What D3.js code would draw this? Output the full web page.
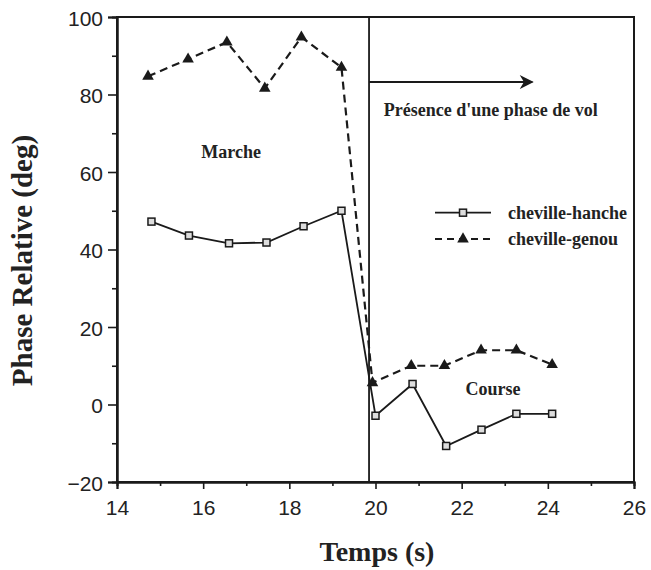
<!DOCTYPE html>
<html><head><meta charset="utf-8">
<script src="https://cdn.jsdelivr.net/npm/d3@7"></script>
<style>body{margin:0;background:#fff}svg{display:block}</style>
</head><body>
<script>
const timeHanche = [14.8, 15.67, 16.6, 17.47, 18.33, 19.21, 20.0, 20.86, 21.64, 22.46, 23.27, 24.1];
const valHanche  = [47.2, 43.6, 41.6, 41.8, 46.0, 50.0, -2.9, 5.3, -10.7, -6.5, -2.4, -2.4];
const timeGenou  = [14.72, 15.65, 16.55, 17.43, 18.28, 19.21, 19.93, 20.83, 21.6, 22.45, 23.27, 24.1];
const valGenou   = [84.7, 89.1, 93.5, 81.6, 94.8, 87.0, 5.6, 10.0, 10.0, 14.0, 14.0, 10.3];
const xTicks = [14, 16, 18, 20, 22, 24, 26];
const yTicks = [-20, 0, 20, 40, 60, 80, 100];
const seriesNames = ["cheville-hanche", "cheville-genou"];
const transitionTime = 19.85;
const arrowY = 83.2, arrowEnd = 23.64;

const W = 651, H = 570;
const L = 117, R = 634, T = 17, B = 482;
const svg = d3.select("body").append("svg").attr("width", W).attr("height", H);
const x = d3.scaleLinear().domain([14, 26]).range([L, R]);
const y = d3.scaleLinear().domain([-20, 100]).range([B, T]);
const ink = "#1a1a1a";

// frame
svg.append("rect").attr("x", L).attr("y", T).attr("width", R - L).attr("height", B - T)
  .attr("fill", "none").attr("stroke", ink).attr("stroke-width", 2);

// axes
const xAxis = svg.append("g").attr("transform", `translate(0,${B})`)
  .call(d3.axisBottom(x).tickValues(xTicks).tickSize(7).tickPadding(6).tickFormat(d3.format("d")));
const xMinor = svg.append("g").attr("transform", `translate(0,${B})`)
  .call(d3.axisBottom(x).tickValues(d3.range(15, 26, 2)).tickSize(4).tickFormat(""));
const yAxis = svg.append("g").attr("transform", `translate(${L},0)`)
  .call(d3.axisLeft(y).tickValues(yTicks).tickSize(9).tickPadding(5).tickFormat(d3.format("d")));
const yMinor = svg.append("g").attr("transform", `translate(${L},0)`)
  .call(d3.axisLeft(y).tickValues(d3.range(-10, 100, 20)).tickSize(5).tickFormat(""));
[xAxis, xMinor, yAxis, yMinor].forEach(g => {
  g.select(".domain").attr("stroke", ink).attr("stroke-width", 2);
  g.selectAll(".tick line").attr("stroke", ink).attr("stroke-width", 1.6);
  g.selectAll("text").attr("fill", "#222").style("font-family", "Liberation Sans, Arial, sans-serif").style("font-size", "21px");
});
xAxis.selectAll("text").attr("dy", "0.95em");
yAxis.selectAll("text").attr("dy", "0.4em");

// transition vertical line
svg.append("line").attr("x1", x(transitionTime)).attr("x2", x(transitionTime)).attr("y1", T).attr("y2", B)
  .attr("stroke", ink).attr("stroke-width", 1.8);

// arrow
svg.append("defs").append("marker").attr("id", "ah").attr("viewBox", "0 0 10 10")
  .attr("refX", 9).attr("refY", 5)
  .attr("markerUnits", "userSpaceOnUse").attr("orient", "auto")
  .attr("markerWidth", 20).attr("markerHeight", 14)
  .append("path").attr("d", "M0,0 L10,5 L0,10 L3,5 Z").attr("fill", ink);
svg.append("line").attr("x1", x(transitionTime)).attr("x2", x(arrowEnd)).attr("y1", y(arrowY)).attr("y2", y(arrowY))
  .attr("stroke", ink).attr("stroke-width", 2).attr("marker-end", "url(#ah)");

// lines
const lineGen = d3.line().x(d => x(d[0])).y(d => y(d[1]));
const hanche = timeHanche.map((t, i) => [t, valHanche[i]]);
const genou = timeGenou.map((t, i) => [t, valGenou[i]]);
svg.append("path").datum(genou).attr("d", lineGen).attr("fill", "none")
  .attr("stroke", ink).attr("stroke-width", 2.2).attr("stroke-dasharray", "8,5");
svg.append("path").datum(hanche).attr("d", lineGen).attr("fill", "none")
  .attr("stroke", ink).attr("stroke-width", 1.8);

const tri = d3.symbol().type(d3.symbolTriangle).size(58);
svg.selectAll(".tri").data(genou).enter().append("path")
  .attr("transform", d => `translate(${x(d[0])},${y(d[1])})`).attr("d", tri).attr("fill", ink);
svg.selectAll(".sq").data(hanche).enter().append("rect")
  .attr("x", d => x(d[0]) - 3.5).attr("y", d => y(d[1]) - 3.5).attr("width", 7).attr("height", 7)
  .attr("fill", "#ddd").attr("stroke", ink).attr("stroke-width", 1.5);

// annotations
const serif = "Liberation Serif, Times New Roman, serif";
function label(tx, px, py, size, anchor) {
  svg.append("text").attr("x", px).attr("y", py).text(tx)
    .style("font-family", serif).style("font-weight", "bold").style("font-size", size + "px")
    .attr("text-anchor", anchor || "start").attr("fill", "#222");
}
label("Marche", x(16.65), y(63.6), 18, "middle");
label("Présence d'une phase de vol", x(20.19), y(74.4), 18, "start");
label("Course", x(22.73), y(2.45), 18, "middle");

// legend
const lgY = [y(49.5), y(42.7)];
svg.append("line").attr("x1", 435).attr("x2", 491).attr("y1", lgY[0]).attr("y2", lgY[0]).attr("stroke", ink).attr("stroke-width", 1.8);
svg.append("rect").attr("x", 463 - 3.5).attr("y", lgY[0] - 3.5).attr("width", 7).attr("height", 7).attr("fill", "#ddd").attr("stroke", ink).attr("stroke-width", 1.5);
svg.append("line").attr("x1", 435).attr("x2", 493).attr("y1", lgY[1]).attr("y2", lgY[1]).attr("stroke", ink).attr("stroke-width", 2).attr("stroke-dasharray", "7,5");
svg.append("path").attr("transform", `translate(463,${lgY[1]})`).attr("d", tri).attr("fill", ink);
seriesNames.forEach((n, i) => label(n, 508, lgY[i] + 6, 18, "start"));

// axis titles
svg.append("text").attr("transform", `translate(32,${(T + B) / 2 + 11}) rotate(-90)`).attr("text-anchor", "middle")
  .text("Phase Relative (deg)").style("font-family", serif).style("font-weight", "bold").style("font-size", "29px").attr("fill", "#222");
svg.append("text").attr("x", 377).attr("y", 561).attr("text-anchor", "middle")
  .text("Temps (s)").style("font-family", serif).style("font-weight", "bold").style("font-size", "28px").attr("fill", "#222");
</script>
</body></html>
